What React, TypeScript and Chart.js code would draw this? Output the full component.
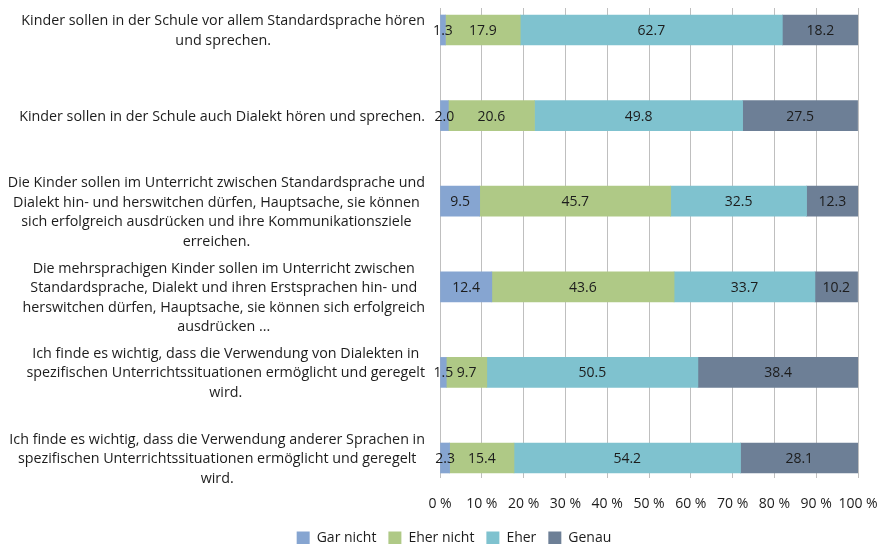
import React, { useEffect, useRef } from "react";
import { Chart, registerables } from "chart.js";

Chart.register(...registerables);

const FONT = "'Open Sans', sans-serif";
const TEXT_COLOR = "#1c1c1c";
const FS = 14;
const LABEL_FS = 14.3;
const LABEL_LINE_H = 19.5;

const categories: string[][] = [
  ["Kinder sollen in der Schule vor allem Standardsprache hören", "und sprechen."],
  ["Kinder sollen in der Schule auch Dialekt hören und sprechen."],
  [
    "Die Kinder sollen im Unterricht zwischen Standardsprache und",
    "Dialekt hin- und herswitchen dürfen, Hauptsache, sie können",
    "sich erfolgreich ausdrücken und ihre Kommunikationsziele",
    "erreichen.",
  ],
  [
    "Die mehrsprachigen Kinder sollen im Unterricht zwischen",
    "Standardsprache, Dialekt und ihren Erstsprachen hin- und",
    "herswitchen dürfen, Hauptsache, sie können sich erfolgreich",
    "ausdrücken ...",
  ],
  [
    "Ich finde es wichtig, dass die Verwendung von Dialekten in",
    "spezifischen Unterrichtssituationen ermöglicht und geregelt",
    "wird.",
  ],
  [
    "Ich finde es wichtig, dass die Verwendung anderer Sprachen in",
    "spezifischen Unterrichtssituationen ermöglicht und geregelt",
    "wird.",
  ],
];

const seriesNames = ["Gar nicht", "Eher nicht", "Eher", "Genau"];
const garNicht = [1.3, 2.0, 9.5, 12.4, 1.5, 2.3];
const eherNicht = [17.9, 20.6, 45.7, 43.6, 9.7, 15.4];
const eher = [62.7, 49.8, 32.5, 33.7, 50.5, 54.2];
const genau = [18.2, 27.5, 12.3, 10.2, 38.4, 28.1];
const seriesColors = ["#86A5D1", "#AFC986", "#7FC2CF", "#6D7F96"];
const xTickValues = [0, 10, 20, 30, 40, 50, 60, 70, 80, 90, 100];

const valueLabels = {
  id: "valueLabels",
  afterDatasetsDraw(chart: any) {
    const ctx = chart.ctx;
    ctx.save();
    ctx.font = `${FS}px ${FONT}`;
    ctx.fillStyle = TEXT_COLOR;
    ctx.textAlign = "center";
    ctx.textBaseline = "middle";
    chart.data.datasets.forEach((ds: any, i: number) => {
      const meta = chart.getDatasetMeta(i);
      meta.data.forEach((el: any, j: number) => {
        const { x, base, y } = el.getProps(["x", "base", "y"], true);
        const v = ds.data[j].x;
        ctx.fillText(Number(v).toFixed(1), (x + base) / 2, y + 1);
      });
    });
    ctx.restore();
  },
};

// Category labels: each block centred on its own widest line, right edge next to the axis
const categoryLabels = {
  id: "categoryLabels",
  afterDraw(chart: any) {
    const ctx = chart.ctx;
    const yScale = chart.scales.y;
    ctx.save();
    ctx.font = `${LABEL_FS}px ${FONT}`;
    ctx.fillStyle = TEXT_COLOR;
    ctx.textAlign = "center";
    ctx.textBaseline = "middle";
    const right = chart.chartArea.left - 15;
    categories.forEach((lines, i) => {
      const cy = yScale.getPixelForValue(i) + (lines.length > 3 ? 11 : 1);
      const w = Math.max(...lines.map((l) => ctx.measureText(l).width));
      const cx = right - w / 2;
      lines.forEach((l, k) => {
        ctx.fillText(l, cx, cy + (k - (lines.length - 1) / 2) * LABEL_LINE_H);
      });
    });
    ctx.restore();
  },
};

export default function App() {
  const ref = useRef<HTMLCanvasElement | null>(null);

  useEffect(() => {
    document.body.style.margin = "0";
    const canvas = ref.current;
    if (!canvas) return;
    const all = [garNicht, eherNicht, eher, genau];
    const chart = new Chart(canvas, {
      type: "bar",
      data: {
        datasets: all.map((arr, i) => ({
          label: seriesNames[i],
          data: arr.map((v, j) => ({ x: v, y: j })),
          backgroundColor: seriesColors[i],
          borderWidth: 0,
          barThickness: 30,
        })),
      },
      plugins: [valueLabels, categoryLabels],
      options: {
        animation: false,
        responsive: false,
        indexAxis: "y",
        layout: { padding: { top: 8, right: 23, left: 50, bottom: 0 } },
        plugins: {
          tooltip: { enabled: false },
          legend: {
            position: "bottom",
            maxHeight: 25,
            labels: {
              boxWidth: 13,
              boxHeight: 13,
              padding: 12,
              color: TEXT_COLOR,
              font: { family: FONT, size: FS },
            },
          },
        },
        scales: {
          x: {
            type: "linear",
            min: 0,
            max: 100,
            stacked: true,
            afterBuildTicks: (s: any) => {
              s.ticks = xTickValues.map((v) => ({ value: v }));
            },
            afterFit: (s: any) => {
              s.height = 45;
              s.paddingLeft = 0;
              s.paddingRight = 0;
            },
            ticks: {
              autoSkip: false,
              maxRotation: 0,
              padding: 18,
              color: TEXT_COLOR,
              font: { family: FONT, size: FS },
              callback: (v: any) => `${v} %`,
            },
            grid: { color: "#BFBFBF", tickLength: 4, drawTicks: true, lineWidth: 1 },
            border: { display: false },
          },
          y: {
            type: "linear",
            reverse: true,
            offset: false,
            bounds: "data",
            min: -0.257,
            max: 5.187,
            stacked: true,
            afterBuildTicks: (s: any) => {
              s.ticks = categories.map((_, i) => ({ value: i }));
            },
            afterFit: (s: any) => {
              s.width = 390;
              s.paddingTop = 0;
              s.paddingBottom = 0;
            },
            grid: { display: false, drawTicks: false, offset: false },
            border: { display: false },
            ticks: { display: false },
          },
        },
      },
    } as any);
    return () => chart.destroy();
  }, []);

  return <canvas ref={ref} width={881} height={544} style={{ display: "block" }} />;
}
